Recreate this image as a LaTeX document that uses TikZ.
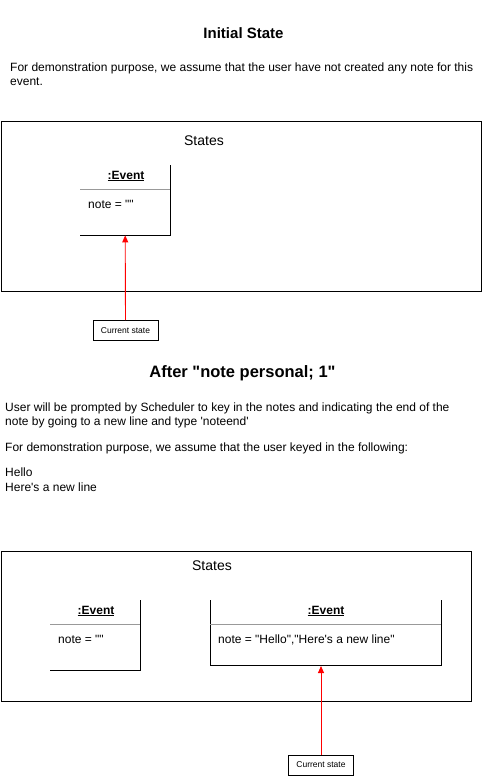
\documentclass[tikz,border=0pt]{standalone}
\usepackage{fontspec}
\setmainfont{Liberation Sans}[Ligatures=TeXOff]
\usetikzlibrary{arrows.meta}
\begin{document}
\begin{tikzpicture}[x=1pt,y=-1pt,
  title/.style={font=\fontsize{15}{17}\selectfont\bfseries, inner sep=0pt},
  body/.style={font=\fontsize{12}{14}\selectfont, inner sep=0pt, anchor=base west},
  frame/.style={draw=black, line width=0.9pt},
  statelbl/.style={font=\fontsize{14}{16}\selectfont, inner sep=0pt},
  evtitle/.style={font=\fontsize{12}{14}\selectfont\bfseries, inner sep=0pt},
  evline/.style={draw=black, line width=0.9pt},
  sepline/.style={draw=black!40, line width=0.8pt},
  curbox/.style={draw=black, line width=0.8pt, font=\fontsize{8.5}{10}\selectfont, minimum width=65pt, minimum height=20pt, inner sep=0pt},
  ptr/.style={draw=red, line width=0.9pt, -{Triangle[length=7pt,width=6pt]}}
]
\useasboundingbox (0,0) rectangle (482,776);
\fill[white] (0,0) rectangle (482,776);

% ---- Initial state ----
\node[title] (t1) at (243.5,33) {Initial State};
\node[body] (p1a) at (10,71) {For demonstration purpose, we assume that the user have not created any note for this};
\node[body] (p1b) at (10,85) {event.};

\node[frame, minimum width=480pt, minimum height=170pt, anchor=north west, inner sep=0pt] (s1) at (0.5,120.5) {};
\node[statelbl] (s1l) at (204,141) {States};

\node[minimum width=90pt, minimum height=70pt, anchor=north west, inner sep=0pt] (e1) at (80,165) {};
\draw[evline] (e1.north east) -- (e1.south east) -- (e1.south west);
\draw[sepline] (80,189) -- (170,189);
\node[evtitle] (e1t) at (126,176) {\underline{:Event}};
\node[body] (e1n) at (88,208) {note = ""};

\node[curbox] (c1) at (125.5,330.5) {Current state};
\draw[ptr] (c1.north) -- (e1.south);

% ---- After note personal ----
\node[title, font=\fontsize{16.5}{18}\selectfont\bfseries] (t2) at (242.5,373) {After "note personal; 1"};
\node[body] (p2a) at (5,411) {User will be prompted by Scheduler to key in the notes and indicating the end of the};
\node[body] (p2b) at (5,425) {note by going to a new line and type 'noteend'};
\node[body] (p2c) at (5,451) {For demonstration purpose, we assume that the user keyed in the following:};
\node[body] (p2d) at (5,476) {Hello};
\node[body] (p2e) at (5,491) {Here's a new line};

\node[frame, minimum width=470pt, minimum height=150pt, anchor=north west, inner sep=0pt] (s2) at (0.5,550.5) {};
\node[statelbl] (s2l) at (212,566) {States};

\node[minimum width=90pt, minimum height=70pt, anchor=north west, inner sep=0pt] (e2) at (50,600) {};
\draw[evline] (e2.north east) -- (e2.south east) -- (e2.south west);
\draw[sepline] (50,624) -- (140,624);
\node[evtitle] (e2t) at (96,611) {\underline{:Event}};
\node[body] (e2n) at (58,643) {note = ""};

\node[minimum width=231pt, minimum height=65pt, anchor=north west, inner sep=0pt] (e3) at (210,600) {};
\draw[evline] (e3.north east) -- (e3.south east) -- (e3.south west) -- (e3.north west);
\draw[sepline] (210,624) -- (441,624);
\node[evtitle] (e3t) at (326,611) {\underline{:Event}};
\node[body] (e3n) at (218,643) {note = "Hello","Here's a new line"};

\coordinate (e3p) at (321,666);
\node[curbox] (c2) at (321,765) {Current state};
\draw[ptr] (c2.north) -- (e3p);
\end{tikzpicture}
\end{document}
